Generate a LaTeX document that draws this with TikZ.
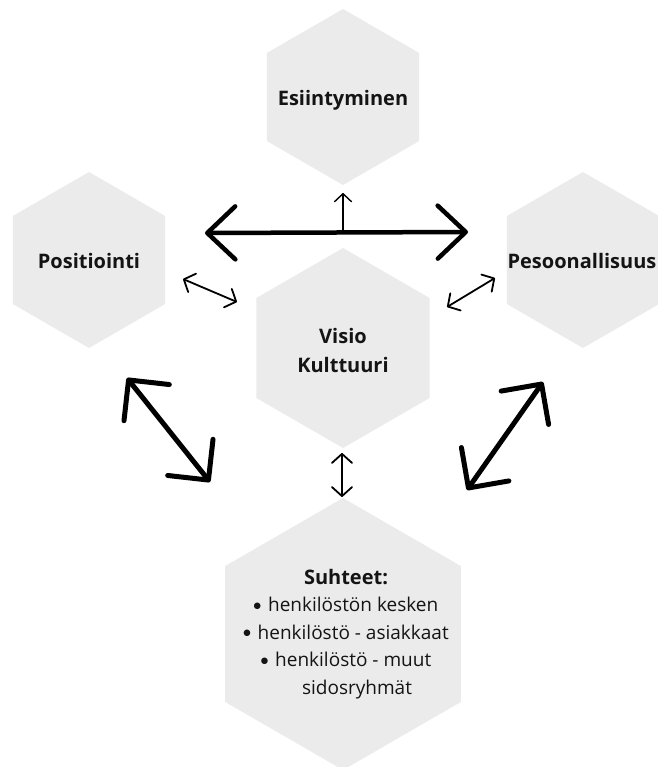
\documentclass[tikz,border=0pt]{standalone}
\usepackage{fontspec}
\setmainfont{Open Sans}
\newfontfamily\dejavu{DejaVu Sans}
\usetikzlibrary{arrows.meta}
\definecolor{hexgray}{HTML}{EBEBEB}
\definecolor{ink}{HTML}{141414}
\newcommand{\hexat}[3]{\fill[hexfill] (#1,#2) ++(90:#3pt) -- ++(210:#3pt) -- ++(270:#3pt) -- ++(330:#3pt) -- ++(30:#3pt) -- ++(90:#3pt) -- cycle;}
\newcommand{\bul}{{\dejavu\fontsize{8.5}{8.5}\selectfont\raisebox{3.6pt}{●}}\hspace{7pt}}
\begin{document}
\begin{tikzpicture}[x=1pt,y=-1pt,
  hexfill/.style={fill=hexgray},
  hexlabel/.style={font=\fontsize{20}{29}\selectfont\bfseries, text=ink, inner sep=0pt, align=center},
  listtext/.style={font=\fontsize{19}{27.6}\selectfont, text=ink, align=center, inner sep=0pt},
  bigarrow/.style={line width=5pt, {Straight Barb[length=29pt,width=58pt,round]}-{Straight Barb[length=29pt,width=58pt,round]}},
  horarrow/.style={line width=4.5pt, {Straight Barb[length=28pt,width=53pt,round]}-{Straight Barb[length=28pt,width=53pt,round]}},
  smallarrow/.style={line width=1.8pt, {Straight Barb[length=9pt,width=20pt,round]}-{Straight Barb[length=9pt,width=20pt,round]}},
  uparrow/.style={line width=1.4pt, -{Straight Barb[length=8pt,width=17pt,round]}}
]
\useasboundingbox (0,0) rectangle (657,767);
% hexagons
\hexat{343}{97}{88}
\hexat{89}{260}{88}
\hexat{583}{260}{88}
\hexat{343}{348}{100}
\hexat{343}{634}{136}
% labels
\node[hexlabel, anchor=base] (esi) at (343,106) {Esiintyminen};
\node[hexlabel, anchor=base] (pos) at (89,268) {Positiointi};
\node[hexlabel, anchor=base] (pes) at (582,268) {Pesoonallisuus};
\node[hexlabel] (vis) at (343,350) {Visio\\Kulttuuri};
\node[listtext] (suh) at (346,634) {{\fontsize{20}{27.6}\selectfont\bfseries Suhteet:}\\\bul henkilöstön kesken\\\bul henkilöstö - asiakkaat\\\bul henkilöstö - muut\\\hspace*{22pt}sidosryhmät};
% arrow end points
\coordinate (hl) at (205,233);
\coordinate (hr) at (468,232);
\coordinate (hm) at (343,232);
\coordinate (ht) at (343,193);
\coordinate (pa) at (183,279);
\coordinate (pb) at (237,302);
\coordinate (qa) at (447,307);
\coordinate (qb) at (495,278);
\coordinate (la) at (127,378);
\coordinate (lb) at (210,482);
\coordinate (ra) at (543,382);
\coordinate (rb) at (467,490);
\coordinate (va) at (342,453);
\coordinate (vb) at (342,497);
% arrows
\draw[horarrow] (hl) -- (hr);
\draw[uparrow] (hm) -- (ht);
\draw[smallarrow] (pa) -- (pb);
\draw[smallarrow] (qa) -- (qb);
\draw[bigarrow] (la) -- (lb);
\draw[bigarrow] (ra) -- (rb);
\draw[smallarrow] (va) -- (vb);
\end{tikzpicture}
\end{document}
